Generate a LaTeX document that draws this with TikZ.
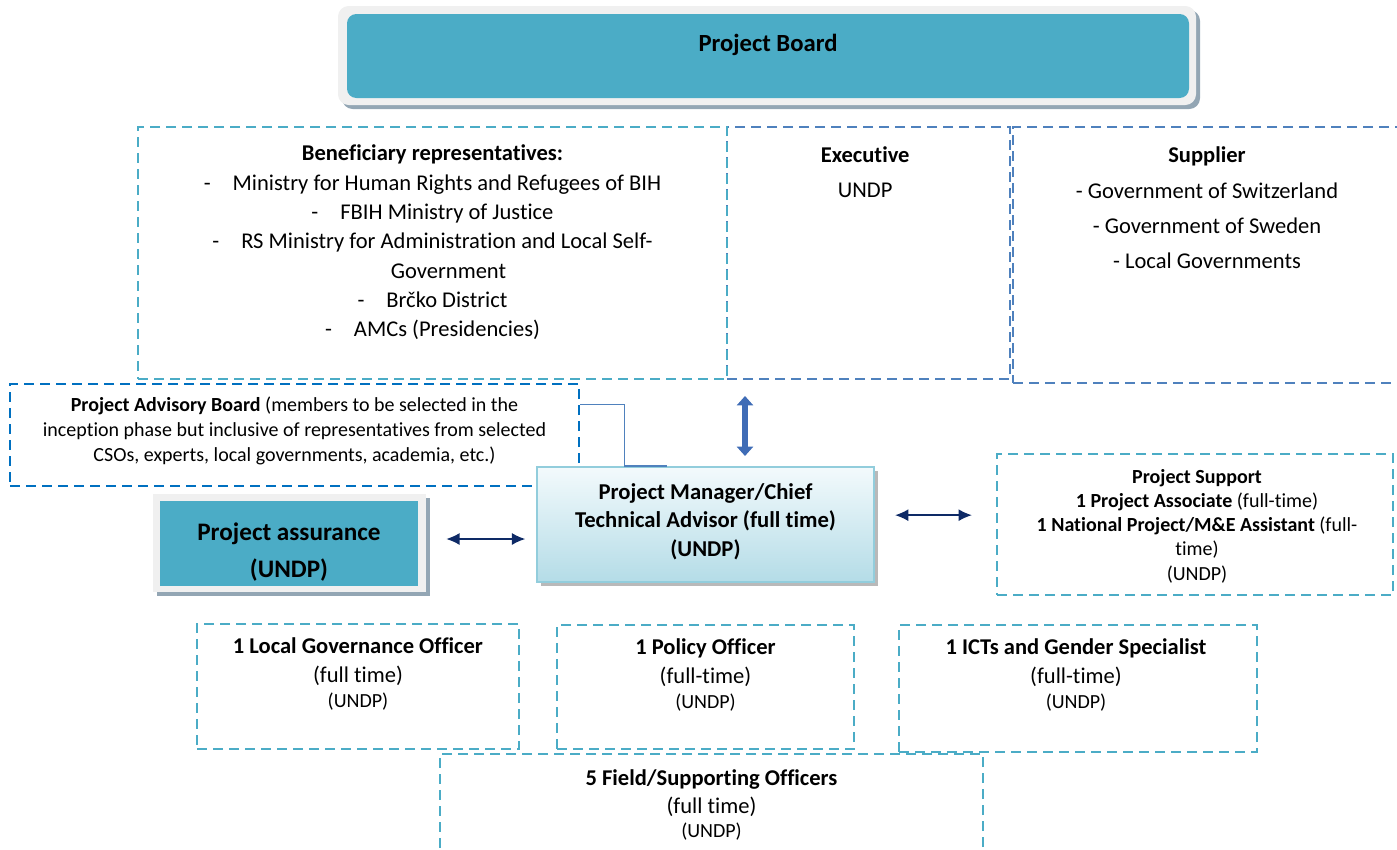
\documentclass[tikz,border=0pt]{standalone}
\usepackage{fontspec}
\setmainfont[Ligatures=NoCommon]{Carlito}
\usetikzlibrary{positioning,fit,arrows.meta,shadows}

\definecolor{boardteal}{HTML}{4BACC6}
\definecolor{lineteal}{HTML}{4BACC6}
\definecolor{lineblue}{HTML}{4F81BD}
\definecolor{advblue}{HTML}{0070C0}
\definecolor{framegray}{HTML}{F0F0F0}
\definecolor{shadowblue}{HTML}{93A6B4}
\definecolor{pmline}{HTML}{92CDDC}
\definecolor{pmtop}{HTML}{F3FAFC}
\definecolor{pmbottom}{HTML}{B4DCE7}
\definecolor{navyline}{HTML}{0E2A66}
\definecolor{blockblue}{HTML}{3F6CB6}

\newcommand\benitem{-\hspace{16.5pt}}

\tikzset{
  dashbox/.style={draw=#1, dash pattern=on 7.5pt off 4.5pt, line width=1.7pt, inner sep=0pt},
  lbl/.style={align=center, inner sep=0pt, text=black},
  frame/.style={fill=framegray, inner sep=0pt,
    drop shadow={shadow xshift=3pt, shadow yshift=-3pt, fill=shadowblue, opacity=1}},
  tealblock/.style={fill=boardteal, inner sep=0pt},
  navyarrow/.style={<->, navyline, line width=1.1pt},
  blockarrow/.style={{Triangle[width=12pt,length=7pt]}-{Triangle[width=12pt,length=7pt]}, blockblue, line width=4pt}
}

\begin{document}
\begin{tikzpicture}[x=0.75pt, y=-0.75pt, >={Latex[length=10pt,width=9pt]}]
\useasboundingbox (0,0) rectangle (1397,850);
\clip (0,0) rectangle (1397,850);

% Board
\node [frame, rounded corners=8pt, fit={(338,6)(1196,105)}] (boardout) {};
\node [tealblock, rounded corners=7pt, fit={(347,14)(1189,98)}] (boardin) {};
\node [lbl, font=\fontsize{18.5}{22}\selectfont\bfseries] (boardlbl) at ([yshift=8pt]boardin.center) {Project Board};

% Board members
\node [dashbox=lineblue, fit={(727,127)(1010,379)}] (exec) {};
\node [dashbox=lineteal, fit={(138,127)(727,379)}] (benef) {};
\node [dashbox=lineblue, fit={(1013,127)(1401,383)}] (supplier) {};

\node [lbl, font=\fontsize{16.9}{22}\selectfont, below=14.25pt of benef.north] (beneflbl) {\textbf{Beneficiary representatives:}\\
  \benitem Ministry for Human Rights and Refugees of BIH\\
  \benitem FBIH Ministry of Justice\\
  \benitem RS Ministry for Administration and Local Self-\\
  \hspace*{24pt}Government\\
  \benitem Brčko District\\
  \benitem AMCs (Presidencies)};
\node [lbl, font=\fontsize{16.9}{26.25}\selectfont, below=15.75pt of exec.north, xshift=-2.5pt] (execlbl) {\textbf{Executive}\\UNDP};
\node [lbl, font=\fontsize{16.9}{26.5}\selectfont, below=15.75pt of supplier.north] (supplierlbl) {\textbf{Supplier}\\- Government of Switzerland\\- Government of Sweden\\- Local Governments};

% Advisory board
\node [dashbox=advblue, fit={(10,384)(579,486)}] (adv) {};
\node [lbl, font=\fontsize{15}{18.75}\selectfont, below=10.5pt of adv.north] (advlbl) {\textbf{Project Advisory Board} (members to be selected in the\\
  inception phase but inclusive of representatives from selected\\
  CSOs, experts, local governments, academia, etc.)};

% Project manager
\node [draw=pmline, line width=1.6pt, top color=pmtop, bottom color=pmbottom, inner sep=0pt,
  drop shadow={shadow xshift=3pt, shadow yshift=-3pt, fill=gray!55, opacity=1},
  fit={(537,467)(874,582)}] (pm) {};
\node [lbl, font=\fontsize{17}{21.4}\selectfont\bfseries, below=12.75pt of pm.north] (pmlbl) {Project Manager/Chief\\Technical Advisor (full time)\\(UNDP)};
\draw [lineblue, line width=0.9pt] ([yshift=23pt]adv.east) -- ++(44,0) |- ([xshift=-29pt]pm.north);

\coordinate (vtop) at (745,396);
\coordinate (vbot) at (745,456);
\draw [blockarrow] (vtop) -- (vbot);

% Assurance
\node [frame, fit={(153,494)(426,592)}] (assureout) {};
\node [tealblock, fit={(160,501)(418,586)}] (assure) {};
\begin{scope}
\clip (160,501) rectangle (418,586);
\node [lbl, font=\fontsize{18.9}{27.75}\selectfont\bfseries, below=16.5pt of assure.north] (assurelbl) {Project assurance\\(UNDP)};
\end{scope}
\draw [navyarrow, shorten <=15pt, shorten >=8pt] ([yshift=3pt]assureout.east) -- ([yshift=3pt]assureout.east -| pm.west);

% Support
\node [dashbox=lineteal, fit={(997,454)(1393,595)}] (support) {};
\node [lbl, font=\fontsize{15}{18.2}\selectfont, below=12pt of support.north, xshift=1.5pt] (supportlbl) {\textbf{Project Support}\\
  \textbf{1 Project Associate} (full-time)\\
  \textbf{1 National Project/M\&E Assistant} (full-\\
  time)\\
  (UNDP)};
\draw [navyarrow, shorten <=15pt, shorten >=18pt] ([yshift=7pt]pm.east) -- ([yshift=7pt]support.west);

% Officers
\node [dashbox=lineteal, fit={(197,624)(519,749)}] (local) {};
\node [dashbox=lineteal, fit={(557,625)(854,749)}] (policy) {};
\node [dashbox=lineteal, fit={(899,625)(1257,752)}] (ict) {};
\node [dashbox=lineteal, fit={(440,754)(983,880)}] (field) {};

\node [lbl, font=\fontsize{16.9}{21.75}\selectfont, below=11.25pt of local.north] (locallbl) {\textbf{1 Local Governance Officer}\\(full time)\\[-3pt]{\fontsize{15}{18}\selectfont(UNDP)}};
\node [lbl, font=\fontsize{16.9}{21.75}\selectfont, below=11.25pt of policy.north] (policylbl) {\textbf{1 Policy Officer}\\(full-time)\\[-3pt]{\fontsize{15}{18}\selectfont(UNDP)}};
\node [lbl, font=\fontsize{16.9}{21.75}\selectfont, below=11.25pt of ict.north, xshift=-1.5pt] (ictlbl) {\textbf{1 ICTs and Gender Specialist}\\(full-time)\\[-3pt]{\fontsize{15}{18}\selectfont(UNDP)}};
\node [lbl, font=\fontsize{16.9}{21}\selectfont, below=12.75pt of field.north] (fieldlbl) {\textbf{5 Field/Supporting Officers}\\(full time)\\[-3pt]{\fontsize{15}{18}\selectfont(UNDP)}};
\end{tikzpicture}
\end{document}
